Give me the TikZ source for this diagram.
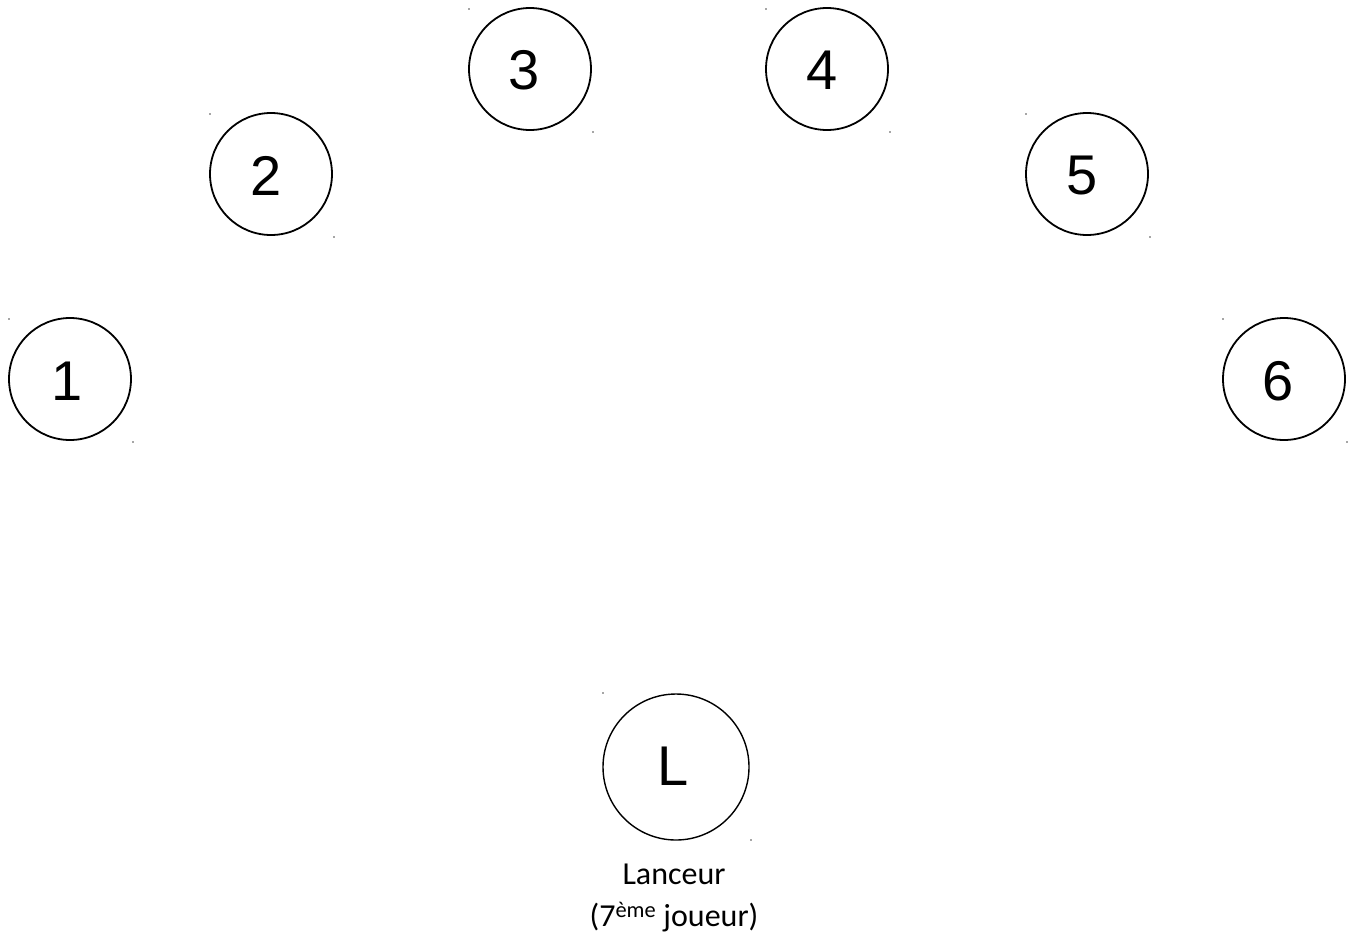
\documentclass[tikz,border=0pt]{standalone}
\usepackage{fontspec}
\setmainfont{Liberation Sans}
\newfontfamily\calib{Carlito}
\begin{document}
\begin{tikzpicture}[x=1pt,y=-1pt,
  player/.style={circle,draw=black,line width=1.8pt,minimum size=122pt,inner sep=0pt},
  num/.style={font=\fontsize{56}{60}\selectfont,inner sep=0pt},
  corner/.style={fill=black!70,draw=none}]
\useasboundingbox (0,0) rectangle (1354,935);
\fill[white] (0,0) rectangle (1354,935);
% players
\node[player] (n1) at (70,379) {};
\node[player] (n2) at (271,174) {};
\node[player] (n3) at (530,69) {};
\node[player] (n4) at (827,69) {};
\node[player] (n5) at (1087,174) {};
\node[player] (n6) at (1284,379) {};
\node[player,minimum size=146pt,line width=1.4pt] (L) at (676,767) {};
% labels
\node[num] (t1) at (67,381) {1};
\node[num] (t2) at (266,176) {2};
\node[num] (t3) at (524,70) {3};
\node[num] (t4) at (822,70) {4};
\node[num] (t5) at (1082,176) {5};
\node[num] (t6) at (1278,381) {6};
\node[num] (tL) at (673,766) {L};
\node[font=\calib\fontsize{32}{42}\selectfont,align=center,anchor=north,inner sep=0pt] (lbl) at (674,864)
  {Lanceur\\(7\textsuperscript{ème} joueur)};
% corner markers
\foreach \p in {n1,n2,n3,n4,n5,n6}{
  \fill[corner] ([shift={(-61,-60)}]\p.center) circle (0.9pt);
  \fill[corner] ([shift={(63,63)}]\p.center) circle (0.9pt);
}
\fill[corner] ([shift={(-73,-74)}]L.center) circle (0.9pt);
\fill[corner] ([shift={(75,73)}]L.center) circle (0.9pt);
\end{tikzpicture}
\end{document}
